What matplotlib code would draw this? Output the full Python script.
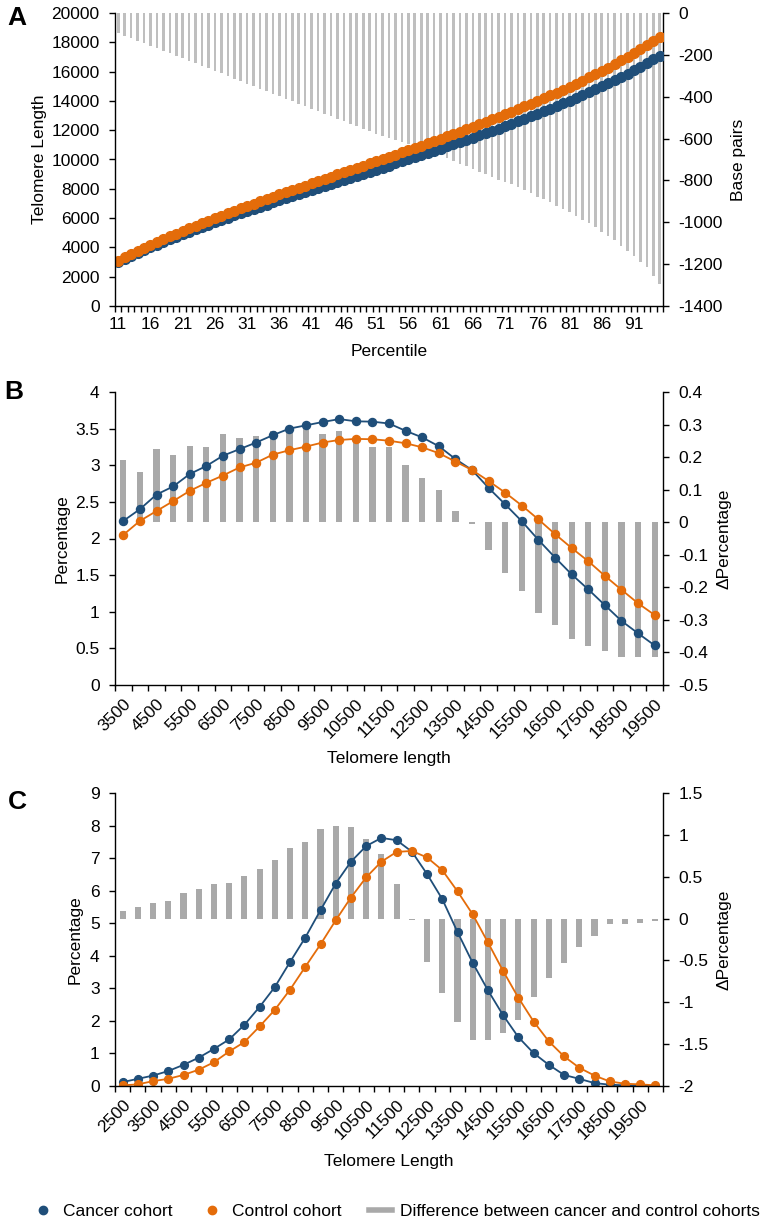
import matplotlib.pyplot as plt
from matplotlib.lines import Line2D
from matplotlib.ticker import FormatStrFormatter
import numpy as np

plt.rcParams['font.family'] = ['Liberation Sans', 'DejaVu Sans']
plt.rcParams['axes.unicode_minus'] = False
plt.rcParams['font.size'] = 12.5

BLUE = '#1F4E79'
ORANGE = '#E46C0A'

# Panel A: telomere length by percentile
percentiles = list(range(11, 96))
cancer_a = [3004, 3212, 3414, 3617, 3815, 4018, 4196, 4374, 4552, 4730,
            4908, 5071, 5234, 5397, 5560, 5723, 5876, 6029, 6182, 6335,
            6488, 6636, 6779, 6927, 7070, 7218, 7361, 7499, 7642, 7780,
            7923, 8061, 8199, 8337, 8475, 8613, 8751, 8889, 9027, 9165,
            9303, 9442, 9587, 9727, 9872, 10012, 10157, 10302, 10452, 10596,
            10740, 10889, 11038, 11185, 11337, 11486, 11640, 11802, 11956, 12113,
            12272, 12441, 12608, 12772, 12939, 13103, 13287, 13469, 13645, 13824,
            14003, 14199, 14398, 14595, 14791, 14985, 15206, 15432, 15648, 15869,
            16095, 16341, 16594, 16834, 17082]
control_a = [3100, 3320, 3535, 3750, 3960, 4175, 4365, 4555, 4745, 4935,
             5125, 5300, 5475, 5650, 5825, 6000, 6165, 6330, 6495, 6660,
             6825, 6985, 7140, 7300, 7455, 7615, 7770, 7920, 8075, 8225,
             8380, 8530, 8680, 8830, 8980, 9130, 9280, 9430, 9580, 9730,
             9880, 10030, 10185, 10335, 10490, 10640, 10795, 10950, 11110, 11265,
             11420, 11580, 11745, 11905, 12070, 12230, 12400, 12570, 12740, 12910,
             13080, 13260, 13440, 13620, 13800, 13980, 14175, 14370, 14565, 14760,
             14955, 15170, 15385, 15600, 15815, 16030, 16270, 16515, 16760, 17005,
             17255, 17530, 17810, 18090, 18375]
diff_a = [-96, -108, -121, -133, -145, -157, -169, -181, -193, -205,
          -217, -229, -241, -253, -265, -277, -289, -301, -313, -325,
          -337, -349, -361, -373, -385, -397, -409, -421, -433, -445,
          -457, -469, -481, -493, -505, -517, -529, -541, -553, -565,
          -577, -588, -598, -608, -618, -628, -638, -648, -658, -669,
          -680, -691, -707, -720, -733, -744, -760, -768, -784, -797,
          -808, -819, -832, -848, -861, -877, -888, -901, -920, -936,
          -952, -971, -987, -1005, -1024, -1045, -1064, -1083, -1112, -1136,
          -1160, -1189, -1216, -1256, -1293]

# Panel B
lengths_b = list(range(3500, 20000, 500))
cancer_b = [2.24, 2.40, 2.60, 2.71, 2.88, 2.99, 3.13, 3.22, 3.31, 3.41,
            3.50, 3.545, 3.59, 3.63, 3.60, 3.595, 3.57, 3.47, 3.38, 3.26,
            3.085, 2.935, 2.69, 2.465, 2.235, 1.98, 1.74, 1.51, 1.305, 1.09,
            0.875, 0.705, 0.54]
control_b = [2.05, 2.24, 2.375, 2.51, 2.65, 2.76, 2.86, 2.97, 3.035, 3.145,
             3.205, 3.255, 3.31, 3.345, 3.36, 3.355, 3.335, 3.30, 3.245, 3.165,
             3.05, 2.935, 2.785, 2.625, 2.45, 2.26, 2.06, 1.87, 1.69, 1.49,
             1.30, 1.115, 0.955]
diff_b = [0.19, 0.155, 0.225, 0.205, 0.235, 0.23, 0.27, 0.26, 0.265, 0.28,
          0.285, 0.29, 0.27, 0.28, 0.255, 0.23, 0.23, 0.175, 0.135, 0.10,
          0.035, -0.005, -0.085, -0.155, -0.21, -0.28, -0.315, -0.36, -0.38, -0.395,
          -0.415, -0.415, -0.415]

# Panel C
lengths_c = list(range(2500, 20001, 500))
cancer_c = [0.12, 0.22, 0.32, 0.46, 0.65, 0.87, 1.14, 1.43, 1.88, 2.43,
            3.04, 3.81, 4.56, 5.40, 6.22, 6.89, 7.37, 7.62, 7.55, 7.20,
            6.51, 5.74, 4.73, 3.78, 2.94, 2.17, 1.50, 1.01, 0.65, 0.34,
            0.22, 0.09, 0.04, 0.02, 0.01, 0.01]
control_c = [0.02, 0.05, 0.15, 0.22, 0.34, 0.50, 0.73, 1.06, 1.35, 1.83,
             2.34, 2.96, 3.66, 4.35, 5.09, 5.79, 6.41, 6.89, 7.19, 7.22,
             7.02, 6.63, 5.98, 5.27, 4.41, 3.53, 2.71, 1.98, 1.37, 0.91,
             0.56, 0.32, 0.14, 0.07, 0.05, 0.02]
diff_c = [0.09, 0.135, 0.19, 0.21, 0.31, 0.35, 0.41, 0.43, 0.505, 0.59,
          0.70, 0.84, 0.915, 1.065, 1.105, 1.095, 0.955, 0.77, 0.41, -0.015,
          -0.515, -0.89, -1.24, -1.45, -1.45, -1.37, -1.21, -0.94, -0.71, -0.53,
          -0.335, -0.21, -0.065, -0.07, -0.05, -0.025]

W_PX, H_PX = 762, 1222
fig = plt.figure(figsize=(W_PX / 100, H_PX / 100), dpi=100)


def make_axes(top):
    return fig.add_axes([115 / W_PX, 1 - (top + 293) / H_PX, 548 / W_PX, 293 / H_PX])


def panel(ax, cats, cancer, control, diff, ylim, yticks, y2lim, y2ticks,
          label_step, rotate, bar_w, bar_col, ms):
    x = np.arange(len(cats))
    ax2 = ax.twinx()
    ax2.bar(x, diff, width=bar_w, color=bar_col, linewidth=0)
    ax.plot(x, cancer, color=BLUE, marker='o', ms=ms, mec=BLUE, lw=1.3)
    ax.plot(x, control, color=ORANGE, marker='o', ms=ms, mec=ORANGE, lw=1.3)
    ax.set_zorder(ax2.get_zorder() + 1)
    ax.patch.set_visible(False)

    ax.set_xlim(-0.5, len(cats) - 0.5)
    ax.set_ylim(*ylim)
    ax.set_yticks(yticks)
    ax2.set_ylim(*y2lim)
    ax2.set_yticks(y2ticks)
    ax.yaxis.set_major_formatter(FormatStrFormatter('%g'))
    ax2.yaxis.set_major_formatter(FormatStrFormatter('%g'))

    ax.set_xticks(x[::label_step])
    if rotate:
        ax.set_xticklabels([str(c) for c in cats[::label_step]], rotation=45,
                           ha='right', va='top', rotation_mode='anchor')
    else:
        ax.set_xticklabels([str(c) for c in cats[::label_step]])
    ax.set_xticks(np.arange(-0.5, len(cats), 1), minor=True)
    ax.tick_params(axis='x', which='major', length=0, pad=8)
    ax.tick_params(axis='x', which='minor', length=4, width=1)
    ax.tick_params(axis='y', length=4, width=1, pad=7)
    ax2.tick_params(axis='y', length=4, width=1, pad=7)

    for a in (ax, ax2):
        a.spines['top'].set_visible(False)
        for s in a.spines.values():
            s.set_linewidth(1.0)
    ax.spines['right'].set_visible(False)
    ax2.spines['left'].set_visible(False)
    ax2.spines['bottom'].set_visible(False)
    return ax2


# A
axA = make_axes(13)
axA2 = panel(axA, percentiles, cancer_a, control_a, diff_a,
             (0, 20000), range(0, 20001, 2000), (-1400, 0), range(-1400, 1, 200),
             5, False, 0.4, '#BFBFBF', 7)
axA.set_ylabel('Telomere Length', ha='center', va='center')
axA.yaxis.set_label_coords(-0.137, 0.5)
axA2.set_ylabel('Base pairs', ha='center', va='center')
axA2.yaxis.set_label_coords(1.137, 0.5)
axA.set_xlabel('Percentile', va='center')
axA.xaxis.set_label_coords(0.5, -0.154)

# B
axB = make_axes(392)
axB2 = panel(axB, lengths_b, cancer_b, control_b, diff_b,
             (0, 4), [0, 0.5, 1, 1.5, 2, 2.5, 3, 3.5, 4], (-0.5, 0.4),
             [-0.5, -0.4, -0.3, -0.2, -0.1, 0, 0.1, 0.2, 0.3, 0.4],
             2, True, 0.38, '#A9A9A9', 5.8)
axB.set_ylabel('Percentage', ha='center', va='center')
axB.yaxis.set_label_coords(-0.097, 0.5)
axB2.set_ylabel('ΔPercentage', ha='center', va='center')
axB2.yaxis.set_label_coords(1.111, 0.5)
axB.set_xlabel('Telomere length', va='center')
axB.xaxis.set_label_coords(0.5, -0.251)

# C
axC = make_axes(793)
axC2 = panel(axC, lengths_c, cancer_c, control_c, diff_c,
             (0, 9), range(0, 10), (-2, 1.5), [-2, -1.5, -1, -0.5, 0, 0.5, 1, 1.5],
             2, True, 0.4, '#A9A9A9', 5.6)
axC.set_ylabel('Percentage', ha='center', va='center')
axC.yaxis.set_label_coords(-0.073, 0.5)
axC2.set_ylabel('ΔPercentage', ha='center', va='center')
axC2.yaxis.set_label_coords(1.111, 0.5)
axC.set_xlabel('Telomere Length', va='center')
axC.xaxis.set_label_coords(0.5, -0.258)

# panel letters
for letter, xp, yp in [('A', 17, 18), ('B', 14, 392), ('C', 17, 802)]:
    fig.text(xp / W_PX, 1 - yp / H_PX, letter, fontsize=19, fontweight='bold',
             ha='center', va='center')

handles = [Line2D([], [], color=BLUE, marker='o', ls='none', ms=6),
           Line2D([], [], color=ORANGE, marker='o', ls='none', ms=6),
           Line2D([], [], color='#A9A9A9', lw=4)]
fig.legend(handles, ['Cancer cohort', 'Control cohort',
                     'Difference between cancer and control cohorts'],
           loc='center', bbox_to_anchor=(0.52, 1 - 1211 / H_PX), ncol=3,
           frameon=False, fontsize=12.5, handlelength=1.3, handletextpad=0.5,
           columnspacing=1.6, borderaxespad=0, borderpad=0)

fig.savefig('out.png', dpi=100)
